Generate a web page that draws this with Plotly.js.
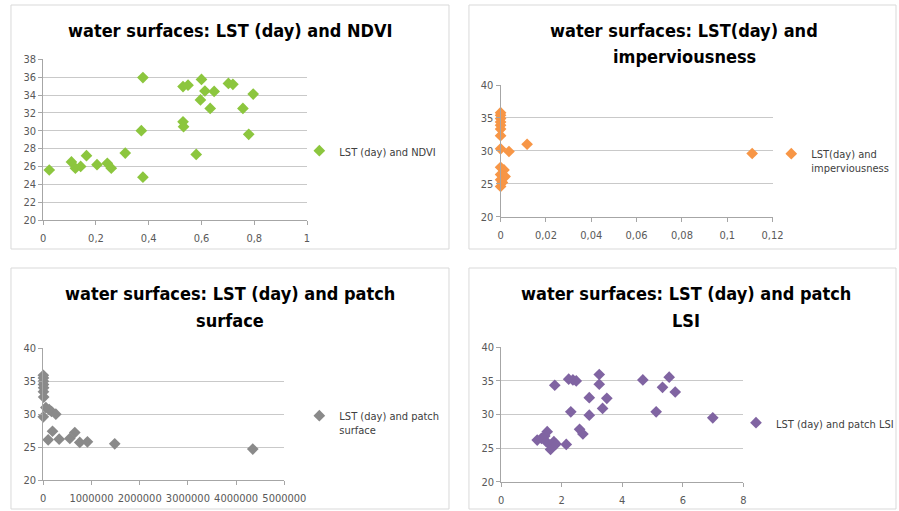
<!DOCTYPE html>
<html>
<head>
<meta charset="utf-8">
<script src="https://cdn.plot.ly/plotly-3.0.1.min.js"></script>
<style>html,body{margin:0;padding:0;background:#fff;}#chart{width:899px;height:511px;}</style>
</head>
<body>
<div id="chart"></div>
<script>
// LST (day) vs NDVI
const ndviX = [0.023,0.107,0.122,0.142,0.164,0.204,0.243,0.258,0.311,0.372,0.378,0.378,0.530,0.549,0.530,0.532,0.600,0.596,0.613,0.648,0.633,0.580,0.702,0.719,0.757,0.779,0.796];
const ndviY = [25.6,26.5,25.8,26.0,27.2,26.2,26.35,25.8,27.5,30.0,35.95,24.8,34.95,35.1,31.0,30.45,35.75,33.45,34.45,34.4,32.5,27.35,35.3,35.2,32.5,29.6,34.1];
// LST (day) vs imperviousness
const impX = [0,0,0,0,0,0,0,0,0,0.0015,0,0.002,0,0.0008,0,0.0037,0.0117,0.111];
const impY = [35.8,35.4,34.9,34.4,33.9,33.3,32.3,30.3,27.5,27.1,26.4,26.1,25.6,25.2,24.6,29.9,31.0,29.6];
// LST (day) vs patch surface
const patchX = [3000,5000,4000,6000,8000,5000,10000,2000,55000,124000,172000,262000,103000,193000,331000,552000,655000,758000,917000,1483000,4345000];
const patchY = [35.9,35.5,35.0,34.5,34.0,33.4,32.6,29.6,31.0,30.7,30.4,30.0,26.1,27.4,26.2,26.3,27.2,25.7,25.8,25.5,24.7];
// LST (day) vs patch LSI
const lsiX = [1.19,1.33,1.52,1.44,1.49,1.63,1.63,1.74,1.81,1.77,2.15,2.23,2.37,2.48,2.30,2.59,2.70,2.91,2.91,3.24,3.24,3.35,3.49,4.68,5.12,5.33,5.55,5.75,6.99];
const lsiY = [26.2,26.45,27.45,26.8,25.95,25.45,24.8,25.95,25.6,34.35,25.55,35.25,35.15,35.0,30.4,27.8,27.1,32.5,29.9,35.95,34.5,30.9,32.4,35.15,30.4,34.05,35.55,33.35,29.5];

const names = ["LST (day) and NDVI","LST(day) and<br>imperviousness","LST (day) and patch<br>surface","LST (day) and patch LSI"];
const colors = ["#8cc63e","#f79646","#8a8a8a","#8064a2"];
const titles = [
  ["water surfaces: LST (day) and NDVI"],
  ["water surfaces: LST(day) and","imperviousness"],
  ["water surfaces: LST (day) and patch","surface"],
  ["water surfaces: LST (day) and patch","LSI"]
];

const W = 899, H = 511;
const px = v => v / W, py = v => 1 - v / H;
const FONT = "'DejaVu Sans Condensed', 'Liberation Sans Narrow', 'Open Sans', sans-serif";

const datasets = [[ndviX, ndviY],[impX, impY],[patchX, patchY],[lsiX, lsiY]];
const traces = datasets.map((d, i) => ({
  type: "scatter", mode: "markers",
  x: d[0], y: d[1], name: names[i],
  xaxis: i === 0 ? "x" : "x" + (i + 1),
  yaxis: i === 0 ? "y" : "y" + (i + 1),
  legend: i === 0 ? "legend" : "legend" + (i + 1),
  cliponaxis: false,
  marker: {symbol: "diamond", size: 9, color: colors[i], line: {width: 0}}
}));

const TICKFONT = {family: FONT, size: 11, color: "#595959"};
function xa(dom, range, dtick, extra) {
  return Object.assign({
    domain: dom, range: range, dtick: dtick, tick0: 0, showgrid: false, zeroline: false,
    showline: true, linecolor: "#a6a6a6", linewidth: 1, ticks: "outside", ticklen: 4, tickcolor: "#a6a6a6",
    ticklabelstandoff: 4, tickfont: TICKFONT, fixedrange: true
  }, extra || {});
}
function ya(dom, range, dtick, anchor) {
  return {
    domain: dom, range: range, dtick: dtick, tick0: 0, anchor: anchor, showgrid: true, gridcolor: "#c9c9c9", gridwidth: 1,
    zeroline: false, showline: true, linecolor: "#a6a6a6", linewidth: 1, ticks: "outside", ticklen: 4, tickcolor: "#a6a6a6",
    tickfont: TICKFONT, fixedrange: true
  };
}

const plots = [
  {x0: 43.3, x1: 307.7, y0: 59.3, y1: 220},
  {x0: 501.7, x1: 774.3, y0: 85, y1: 216.7},
  {x0: 43.3, x1: 285, y0: 348.3, y1: 480},
  {x0: 502.3, x1: 745, y0: 347.3, y1: 481.7}
];
const dom = p => ({x: [px(p.x0), px(p.x1)], y: [py(p.y1), py(p.y0)]});

const layout = {
  width: W, height: H,
  margin: {l: 0, r: 0, t: 0, b: 0},
  paper_bgcolor: "#ffffff", plot_bgcolor: "rgba(0,0,0,0)",
  separators: ", ",
  font: {family: FONT, color: "#404040"},
  xaxis:  xa(dom(plots[0]).x, [0, 1], 0.2, {anchor: "y"}),
  yaxis:  ya(dom(plots[0]).y, [20, 38], 2, "x"),
  xaxis2: xa(dom(plots[1]).x, [0, 0.12], 0.02, {anchor: "y2"}),
  yaxis2: ya(dom(plots[1]).y, [20, 40], 5, "x2"),
  xaxis3: xa(dom(plots[2]).x, [0, 5000000], 1000000, {anchor: "y3", tickformat: "d"}),
  yaxis3: ya(dom(plots[2]).y, [20, 40], 5, "x3"),
  xaxis4: xa(dom(plots[3]).x, [0, 8], 2, {anchor: "y4"}),
  yaxis4: ya(dom(plots[3]).y, [20, 40], 5, "x4"),
  showlegend: true,
  shapes: [
    [11, 5, 450, 249], [470, 5, 898, 249], [11, 268, 450, 509], [470, 268, 898, 509]
  ].map(b => ({type: "rect", xref: "paper", yref: "paper", x0: px(b[0]), x1: px(b[2]), y0: py(b[3]), y1: py(b[1]),
    line: {color: "#d9d9d9", width: 1}, fillcolor: "rgba(0,0,0,0)", layer: "below"})),
  annotations: []
};

const legendPos = [[300, 137], [773, 140], [300, 402], [738, 409]];
["legend","legend2","legend3","legend4"].forEach((k, i) => {
  layout[k] = {x: px(legendPos[i][0]), y: py(legendPos[i][1]), xanchor: "left", yanchor: "top",
    bgcolor: "rgba(0,0,0,0)", borderwidth: 0, valign: "top", itemclick: false, itemdoubleclick: false,
    font: {family: FONT, size: 11, color: "#404040"}};
});

const titlePos = [[231, 30], [686, 30], [231, 293], [688, 293]];
titles.forEach((lines, i) => {
  lines.forEach((t, j) => {
    layout.annotations.push({xref: "paper", yref: "paper", x: px(titlePos[i][0]), y: py(titlePos[i][1] + 27 * j),
      xanchor: "center", yanchor: "middle", showarrow: false, text: "<b>" + t + "</b>",
      font: {family: FONT, size: 18, color: "#000000"}});
  });
});

Plotly.newPlot("chart", traces, layout, {displayModeBar: false, staticPlot: true});
</script>
</body>
</html>
